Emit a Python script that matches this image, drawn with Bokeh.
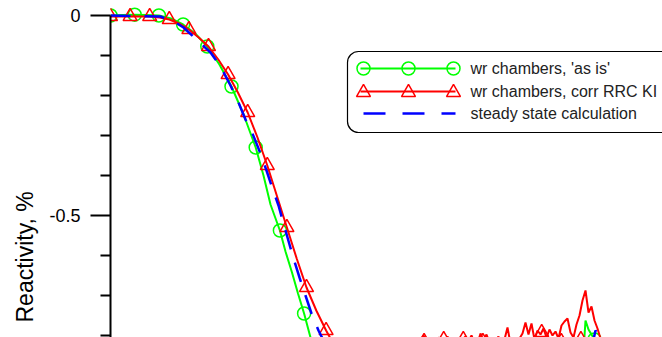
import math
from bokeh.plotting import figure
from bokeh.models import Range1d, LinearAxis, FixedTicker, BoxAnnotation, Title
from bokeh.core.properties import value
from bokeh.embed import file_html
from bokeh.resources import INLINE

# ---------------- data (time, arbitrary units; reactivity, %) ----------------
green_t = [0, 12.1, 24.2, 36.3, 48.4, 60.5, 72.6, 84.7, 96.8, 108.9, 121.0, 133.1,
           145.2, 153.0, 160.0, 169.4, 175.0, 181.5, 187.5, 193.6, 200.0, 205.7,
           217.8, 242.0, 290.4, 338.8, 387.2, 435.6, 459.8, 470.0, 473.0, 475.0,
           478.0, 484.0, 488.0]
green_r = [0.0, 0.001, 0.002, 0.001, 0.0, -0.0075, -0.0225, -0.045, -0.0775, -0.1225,
           -0.1775, -0.2475, -0.33, -0.40, -0.4725, -0.5375, -0.59, -0.6425, -0.695,
           -0.745, -0.805, -0.85, -0.90, -0.905, -0.90, -0.893, -0.886, -0.878,
           -0.872, -0.87, -0.84, -0.7625, -0.785, -0.81, -0.82]

green_mark_t = [0, 24.2, 48.4, 72.6, 96.8, 121.0, 145.2, 169.4, 193.6, 217.8, 242.0,
                266.2, 290.4, 314.6, 338.8, 363.0, 387.2, 411.4, 435.6, 459.8, 484.0]
green_mark_r = [0.0, 0.002, 0.0, -0.0225, -0.0775, -0.1775, -0.33, -0.5375, -0.745,
                -0.90, -0.905, -0.903, -0.90, -0.897, -0.893, -0.89, -0.886, -0.882,
                -0.878, -0.872, -0.81]

red_t = [0, 9.8, 19.6, 29.4, 39.2, 49.0, 58.8, 68.6, 78.4, 88.2, 98.0, 107.8, 117.6,
         127.4, 137.2, 147.0, 156.8, 166.6, 176.4, 186.2, 196.0, 205.8, 215.6, 225.4,
         235.2, 254.8, 274.4, 294.0, 304.0,
         310, 313, 316, 319, 322, 325, 328, 331, 334, 337, 340, 343, 346, 349, 352,
         355, 358, 361, 364, 367, 370, 373, 376, 379, 382, 385, 388, 391, 394, 397,
         400, 403, 406, 409, 412, 415, 418, 421, 424, 427, 430, 433, 436, 439, 442,
         445, 448, 451, 454, 457, 460, 463, 466, 469, 472, 475, 478, 481, 484, 487, 490]
red_r = [-0.0025, -0.0025, -0.0025, -0.0025, -0.0025, -0.005, -0.01, -0.02, -0.035,
         -0.055, -0.0775, -0.11, -0.1475, -0.1925, -0.2425, -0.305, -0.375, -0.4525,
         -0.53, -0.6075, -0.68, -0.7375, -0.7875, -0.8325, -0.8625, -0.87, -0.86,
         -0.84, -0.825,
         -0.8125, -0.8, -0.815, -0.8225, -0.81, -0.8175, -0.805, -0.81, -0.815,
         -0.8025, -0.8175, -0.8125, -0.8225, -0.8075, -0.81, -0.8025, -0.815, -0.8,
         -0.8175, -0.82, -0.795, -0.8125, -0.7975, -0.8175, -0.815, -0.8125, -0.8025,
         -0.8225, -0.81, -0.78, -0.82, -0.815, -0.825, -0.8075, -0.795, -0.7675,
         -0.7975, -0.77, -0.81, -0.7875, -0.7975, -0.7825, -0.805, -0.785, -0.8,
         -0.79, -0.8075, -0.775, -0.765, -0.7575, -0.7925, -0.805, -0.7725, -0.75,
         -0.7125, -0.6875, -0.7425, -0.7275, -0.7625, -0.7825, -0.8075]

red_mark_t = [0, 19.6, 39.2, 58.8, 78.4, 98.0, 117.6, 137.2, 156.8, 176.4, 196.0, 215.6,
              235.2, 254.8, 274.4, 294.0, 313.6, 333.2, 352.8, 372.4, 392.0, 411.6,
              431.2, 450.8, 470.4]
red_mark_r = [-0.0025, -0.0025, -0.0025, -0.01, -0.035, -0.0775, -0.1475, -0.2425,
              -0.375, -0.53, -0.68, -0.7875, -0.8625, -0.87, -0.86, -0.84, -0.815,
              -0.81, -0.81, -0.815, -0.825, -0.825, -0.7925, -0.815, -0.81]

blue_t = [0, 50, 65, 73, 87, 100, 110, 120, 128, 135, 142, 150, 156, 162, 168, 173,
          177, 183, 189, 195, 201, 208, 212, 220, 240, 300, 400, 478, 483, 485, 487]
blue_r = [0.0, -0.0025, -0.0175, -0.03, -0.0625, -0.0925, -0.1275, -0.175, -0.2175,
          -0.26, -0.295, -0.345, -0.3875, -0.4325, -0.475, -0.52, -0.555, -0.6075,
          -0.655, -0.70, -0.745, -0.7875, -0.8075, -0.8625, -0.875, -0.87, -0.865,
          -0.86, -0.81, -0.7875, -0.795]

series_labels = ["wr chambers, 'as is'", "wr chambers, corr RRC KI", "steady state calculation"]
y_ticks = [-0.5, 0.0]
y_tick_labels = ["-0.5", "0"]
y_minor = [-0.8, -0.7, -0.6, -0.4, -0.3, -0.2, -0.1]
y_label = "Reactivity, %"

GREEN, RED, BLUE = "#00ff00", "#ff0000", "#0000ff"
FONT = "Liberation Sans"

p = figure(width=662, height=337, output_backend="svg", toolbar_location=None,
           x_range=Range1d(0, 552), y_range=Range1d(-0.805, 0.0375),
           x_axis_location=None, y_axis_location=None, title=None,
           min_border_left=110, min_border_right=0, min_border_top=0,
           min_border_bottom=0)
p.outline_line_color = None
p.background_fill_color = "white"
p.border_fill_color = "white"
p.grid.visible = False
p.extra_x_ranges = {"px": Range1d(110, 662)}
p.extra_y_ranges = {"py": Range1d(337, 0)}

yaxis = LinearAxis(ticker=FixedTicker(ticks=y_ticks, minor_ticks=y_minor),
                   bounds=(-1.0, 0.0))
yaxis.major_label_overrides = dict(zip(y_ticks, y_tick_labels))
yaxis.axis_line_width = 2
yaxis.axis_line_color = "black"
yaxis.major_tick_line_width = 2
yaxis.minor_tick_line_width = 2
yaxis.major_tick_out = 20
yaxis.major_tick_in = 0
yaxis.minor_tick_out = 10
yaxis.minor_tick_in = 0
yaxis.major_label_standoff = 10
yaxis.major_label_text_font = FONT
yaxis.major_label_text_font_size = "18px"
yaxis.major_label_text_color = "black"
p.add_layout(yaxis, "left")

# y-axis title, placed in the left panel, shifted towards the bottom
p.add_layout(Title(text=y_label, align="left", offset=15, standoff=18,
                   text_font=FONT, text_font_size="23px", text_font_style="normal",
                   text_color="black"), "left")

# data
p.line(green_t, green_r, line_color=GREEN, line_width=2)
p.scatter(green_mark_t, green_mark_r, marker="circle", size=13, fill_color=None,
          line_color=GREEN, line_width=1.5)
p.line(red_t, red_r, line_color=RED, line_width=2)
p.scatter(red_mark_t, red_mark_r, marker="triangle", size=14, fill_color=None,
          line_color=RED, line_width=1.5)
p.line(blue_t, blue_r, line_color=BLUE, line_width=2.5, line_dash="20 14")

# legend (drawn in pixel coordinates)
p.add_layout(BoxAnnotation(left=347, right=680, top=51, bottom=132,
                           x_range_name="px", y_range_name="py",
                           fill_color="white", fill_alpha=1.0, line_color="black",
                           line_alpha=1.0, line_width=1.2, border_radius=11,
                           level="underlay"))
rows = [68, 91, 113]
p.line([360, 455], [rows[0]] * 2, x_range_name="px", y_range_name="py",
       line_color=GREEN, line_width=2)
p.scatter([363, 408, 453], [rows[0]] * 3, x_range_name="px", y_range_name="py",
          marker="circle", size=13, fill_color=None, line_color=GREEN, line_width=1.5)
p.line([360, 455], [rows[1]] * 2, x_range_name="px", y_range_name="py",
       line_color=RED, line_width=2)
p.scatter([363, 408, 453], [rows[1] + 1] * 3, x_range_name="px", y_range_name="py",
          marker="triangle", size=14, fill_color=None, line_color=RED, line_width=1.5)
p.line([363, 455], [rows[2]] * 2, x_range_name="px", y_range_name="py",
       line_color=BLUE, line_width=2.5, line_dash="22 17")
p.text([470] * 3, rows, text=series_labels, x_range_name="px", y_range_name="py",
       text_font=value(FONT), text_font_size="16px", text_color="#222222",
       text_baseline="middle", text_align="left")

open("out.html", "w").write(file_html(p, INLINE))
